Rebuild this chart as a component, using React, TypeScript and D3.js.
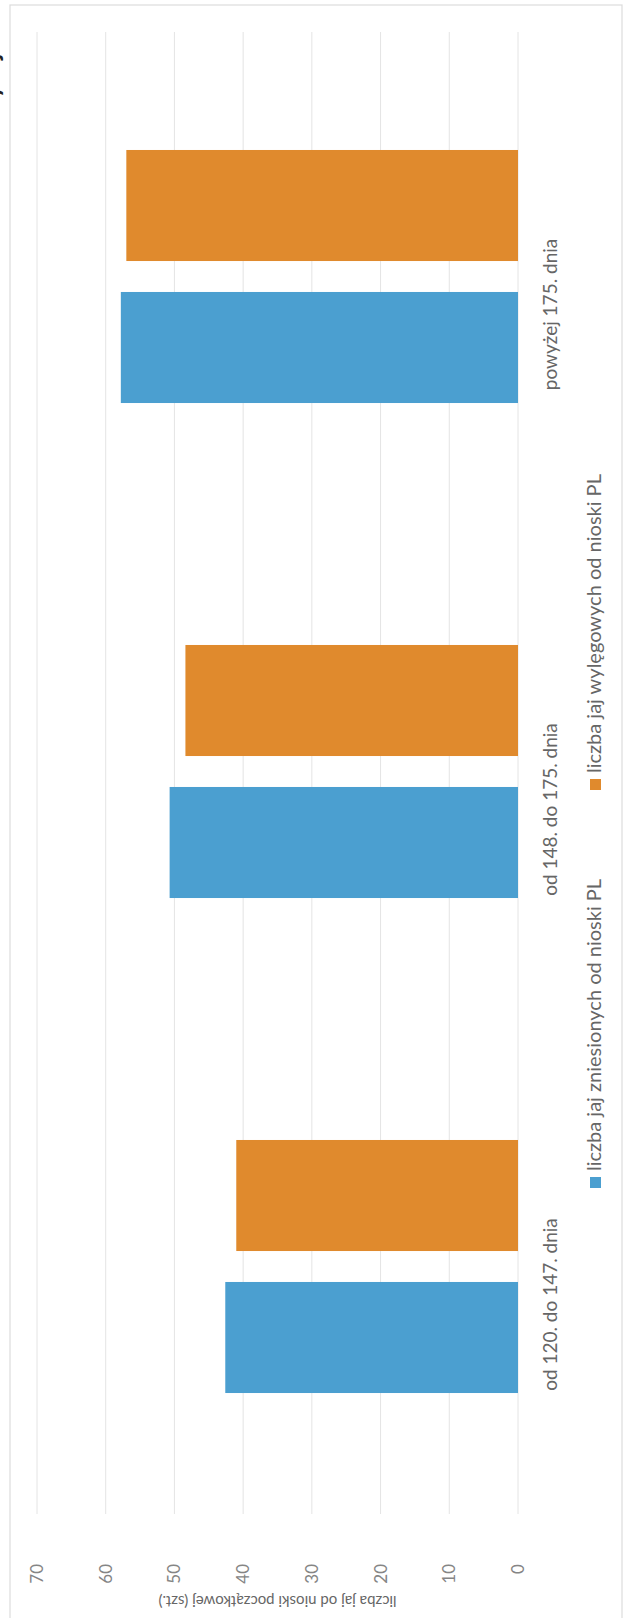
import * as d3 from 'd3';

// chart data
const categories = ['od 120. do 147. dnia', 'od 148. do 175. dnia', 'powyżej 175. dnia'];
const seriesNames = ['liczba jaj zniesionych od nioski PL', 'liczba jaj wylęgowych od nioski PL'];
const laidEggs = [42.6, 50.7, 57.8];
const hatchingEggs = [41.0, 48.4, 57.0];
const yTicks = [0, 10, 20, 30, 40, 50, 60, 70];
const axisTitle = 'liczba jaj od nioski początkowej (szt.)';
const chartTitle = 'Poziom wydajności';

const colors = ['#4b9fd0', '#e08a2d'];

// the whole chart is drawn upright, then turned -90deg like in the scan
const W = 1618;
const H = 624;

export default function App() {
  const values = [laidEggs, hatchingEggs];

  const x = d3.scaleBand<string>()
    .domain(categories)
    .range([104, 1589])
    .paddingInner(0)
    .paddingOuter(0);

  const xInner = d3.scaleBand<number>()
    .domain([0, 1])
    .range([0, x.bandwidth()])
    .paddingInner(0.218)
    .paddingOuter(0.852);

  const y = d3.scaleLinear()
    .domain([0, 70])
    .range([518, 37]);

  const font = 'Lato, "Open Sans", sans-serif';
  const legendX = [430, 828];

  return (
    <svg
      width={H}
      height={W}
      style={{ position: 'absolute', left: 0, top: 0, background: '#fff' }}
    >
      <g transform={`translate(0,${W}) rotate(-90)`} fontFamily={font}>
        {/* chart area border */}
        <rect x={-20} y={10} width={1633} height={612} fill="none" stroke="#dcdcdc" strokeWidth={1.2} />

        {/* title, almost all outside the scan */}
        <text x={1620} y={-1} textAnchor="end" fontSize={24} fontWeight="bold" fill="#222">
          {chartTitle}
        </text>

        {/* gridlines */}
        {yTicks.map(t => (
          <line
            key={t}
            x1={104}
            x2={1586}
            y1={y(t)}
            y2={y(t)}
            stroke="#e4e4e4"
            strokeWidth={1}
          />
        ))}

        {/* bars */}
        {categories.map((c, i) => (
          <g key={c} transform={`translate(${x(c)},0)`}>
            {values.map((s, k) => (
              <rect
                key={k}
                x={xInner(k)}
                y={y(s[i])}
                width={xInner.bandwidth()}
                height={y(0) - y(s[i])}
                fill={colors[k]}
              />
            ))}
          </g>
        ))}

        {/* value axis labels */}
        {yTicks.map(t => (
          <text key={t} x={54} y={y(t)} dy="0.35em" textAnchor="end" fontSize={17} fill="#858585">
            {t}
          </text>
        ))}

        <text
          transform={`translate(22,${(y(0) + y(70)) / 2}) rotate(-90)`}
          textAnchor="middle"
          fontSize={15}
          fill="#666"
        >
          {axisTitle}
        </text>

        {/* category labels */}
        {categories.map(c => (
          <text key={c} x={(x(c) ?? 0) + x.bandwidth() / 2 - 38} y={557} textAnchor="middle" fontSize={19} fill="#666">
            {c}
          </text>
        ))}

        {/* legend */}
        {seriesNames.map((n, k) => (
          <g key={n} transform={`translate(${legendX[k]},0)`}>
            <rect x={0} y={590} width={11} height={11} fill={colors[k]} />
            <text x={17} y={601} fontSize={20} fill="#666">{n}</text>
          </g>
        ))}
      </g>
    </svg>
  );
}
